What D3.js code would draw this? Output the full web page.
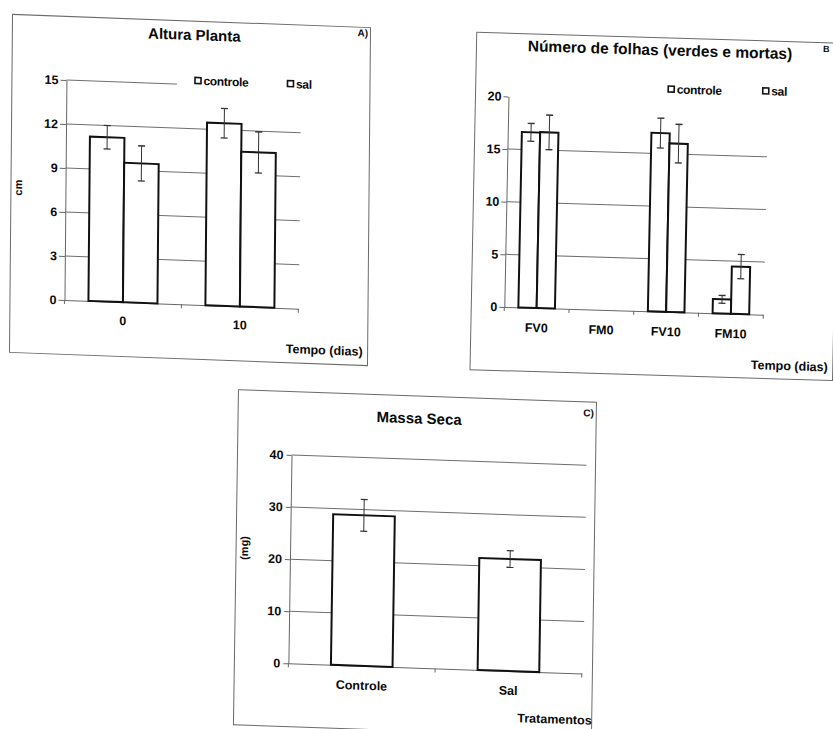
<!DOCTYPE html>
<html><head><meta charset="utf-8">
<script src="https://cdn.jsdelivr.net/npm/d3@7"></script>
<style>
body{margin:0;background:#fff}
svg{display:block}
text{font-family:"Liberation Sans",Arial,sans-serif;font-weight:bold;fill:#0a0a0a}
</style>
</head><body>
<svg id="c" width="833" height="729"></svg>
<script>
// ---------- Panel A: Altura Planta ----------
const alturaCategorias = ["0", "10"];
const alturaControle = [11.2, 12.45];
const alturaControleErro = [0.8, 1.0];
const alturaSal = [9.5, 10.55];
const alturaSalErro = [1.2, 1.4];
const alturaTicks = [0, 3, 6, 9, 12, 15];
const alturaGrid = [3, 6, 9, 12, 15];

// ---------- Panel B: Número de folhas ----------
const folhasCategorias = ["FV0", "FM0", "FV10", "FM10"];
const folhasControle = [16.65, 0, 16.95, 1.35];
const folhasControleErro = [0.85, 0, 1.42, 0.37];
const folhasSal = [16.7, 0, 16.0, 4.5];
const folhasSalErro = [1.64, 0, 1.83, 1.15];
const folhasTicks = [0, 5, 10, 15, 20];
const folhasGrid = [5, 10, 15];

// ---------- Panel C: Massa Seca ----------
const massaCategorias = ["Controle", "Sal"];
const massaValores = [28.9, 21.5];
const massaErro = [3.05, 1.6];
const massaTicks = [0, 10, 20, 30, 40];
const massaGrid = [10, 20, 30, 40];

const legendaNomes = ["controle", "sal"];

const svg = d3.select("#c");
const FONT = '"Liberation Sans", Arial, sans-serif';

function drawPanel(o) {
  const g = svg.append("g")
    .attr("transform", `translate(${o.cx},${o.cy}) matrix(1,${o.tb},${o.ta},1,0,0) translate(${-o.cx},${-o.cy})`);

  // frame
  g.append("rect")
    .attr("x", o.frame[0]).attr("y", o.frame[1])
    .attr("width", o.frame[2] - o.frame[0]).attr("height", o.frame[3] - o.frame[1])
    .attr("fill", "#fff").attr("stroke", "#6a6a6a").attr("stroke-width", 1);

  const x = d3.scaleBand().domain(o.categories).range([o.xl, o.xr]);
  const y = d3.scaleLinear().domain([0, o.ymax]).range([o.y0, o.yTop]);

  // gridlines
  g.selectAll("line.grid").data(o.grid).join("line").attr("class", "grid")
    .attr("x1", o.xl).attr("x2", o.gridR)
    .attr("y1", d => y(d)).attr("y2", d => y(d))
    .attr("stroke", "#6e6e6e").attr("stroke-width", 1);

  // legend background (hides gridline like the original)
  if (o.legendBg) {
    g.append("rect").attr("x", o.legendBg[0]).attr("y", o.legendBg[1])
      .attr("width", o.legendBg[2] - o.legendBg[0]).attr("height", o.legendBg[3] - o.legendBg[1])
      .attr("fill", "#fff");
  }

  // y axis
  const ya = g.append("g").attr("transform", `translate(${o.xl},0)`)
    .call(d3.axisLeft(y).tickValues(o.ticks).tickSize(o.tickSize).tickSizeOuter(0)
      .tickPadding(o.tickPad).tickFormat(d3.format("d")));
  ya.select(".domain").attr("stroke", "#666");
  ya.selectAll(".tick line").attr("stroke", "#666");
  ya.selectAll("text").attr("font-size", 12.5).attr("font-family", FONT)
    .attr("font-weight", "bold").attr("fill", "#0a0a0a");

  // x axis
  const xa = g.append("g").attr("transform", `translate(0,${o.y0})`)
    .call(d3.axisBottom(x).tickSize(0).tickSizeOuter(0).tickPadding(o.xPad));
  xa.select(".domain").attr("stroke", "#666");
  xa.selectAll("text").attr("font-size", 12.5).attr("font-family", FONT)
    .attr("font-weight", "bold").attr("fill", "#0a0a0a");
  // category boundary ticks (Excel style)
  const bounds = o.categories.map(c => x(c)).concat([x.range()[1]]);
  g.selectAll("line.bt").data(bounds).join("line").attr("class", "bt")
    .attr("x1", d => d).attr("x2", d => d)
    .attr("y1", o.y0).attr("y2", o.y0 + 4)
    .attr("stroke", "#666");

  // bars
  const groupW = x.bandwidth() * o.groupFrac;
  const sub = d3.scaleBand().domain(d3.range(o.series.length)).range([0, groupW]);
  o.series.forEach((s, si) => {
    const data = o.categories.map((c, i) => ({ c, v: s.values[i], e: s.errors[i] }));
    const left = d => x(d.c) + (x.bandwidth() - groupW) / 2 + sub(si);
    g.selectAll(null).data(data).join("rect")
      .attr("x", left).attr("width", sub.bandwidth())
      .attr("y", d => y(d.v)).attr("height", d => y(0) - y(d.v))
      .attr("fill", "#fff")
      .attr("stroke", d => d.v === 0 ? "#aaa" : "#111")
      .attr("stroke-width", d => d.v === 0 ? 1 : 2);
    const eb = data.filter(d => d.e > 0);
    const cxF = d => left(d) + sub.bandwidth() / 2;
    g.selectAll(null).data(eb).join("line")
      .attr("x1", cxF).attr("x2", cxF)
      .attr("y1", d => y(d.v - d.e)).attr("y2", d => y(d.v + d.e))
      .attr("stroke", "#333").attr("stroke-width", 1);
    [1, -1].forEach(sg => {
      g.selectAll(null).data(eb).join("line")
        .attr("x1", d => cxF(d) - 3.5).attr("x2", d => cxF(d) + 3.5)
        .attr("y1", d => y(d.v + sg * d.e)).attr("y2", d => y(d.v + sg * d.e))
        .attr("stroke", "#333").attr("stroke-width", 1.3);
    });
  });

  // legend
  if (o.legend) {
    o.legend.forEach((L, i) => {
      g.append("rect").attr("x", L.x).attr("y", L.y - 3).attr("width", 6).attr("height", 6)
        .attr("fill", "#fff").attr("stroke", "#111").attr("stroke-width", 1.6);
      g.append("text").attr("x", L.x + 8.5).attr("y", L.y + 4.3)
        .attr("font-size", 12).attr("letter-spacing", -0.3).text(legendaNomes[i]);
    });
  }

  // titles & labels
  g.append("text").attr("x", o.title.x).attr("y", o.title.y).attr("text-anchor", "middle")
    .attr("font-size", o.title.size).text(o.title.text);
  g.append("text").attr("x", o.tag.x).attr("y", o.tag.y).attr("text-anchor", "start")
    .attr("font-size", o.tag.size || 10).text(o.tag.text);
  g.append("text").attr("x", o.xTitle.x).attr("y", o.xTitle.y).attr("text-anchor", "end")
    .attr("font-size", 12.5).text(o.xTitle.text);
  if (o.yTitle) {
    g.append("text").attr("transform", `translate(${o.yTitle.x},${o.yTitle.y}) rotate(-90)`)
      .attr("text-anchor", "middle").attr("font-size", 11).text(o.yTitle.text);
  }
}

drawPanel({
  cx: 190, cy: 190, tb: 0.037, ta: -0.009,
  frame: [11, 21, 369, 359],
  categories: alturaCategorias, xl: 65.5, xr: 299.4, gridR: 300,
  ymax: 15, y0: 304.6, yTop: 84.6,
  ticks: alturaTicks, grid: alturaGrid, tickSize: 6, tickPad: 2, xPad: 14,
  groupFrac: 0.59,
  series: [{ values: alturaControle, errors: alturaControleErro },
           { values: alturaSal, errors: alturaSalErro }],
  legendBg: [176, 72, 301, 91],
  legend: [{ x: 194, y: 80.3 }, { x: 286.5, y: 80 }],
  title: { x: 193, y: 40, size: 15, text: "Altura Planta" },
  tag: { x: 356, y: 30, text: "A)" },
  xTitle: { x: 364, y: 349.5, text: "Tempo (dias)" },
  yTitle: { x: 22, y: 194, text: "cm" }
});

drawPanel({
  cx: 650, cy: 200, tb: 0.030, ta: -0.02,
  frame: [473.5, 37.5, 836, 375],
  categories: folhasCategorias, xl: 506.5, xr: 765.5, gridR: 766,
  ymax: 20, y0: 311.3, yTop: 100.7,
  ticks: folhasTicks, grid: folhasGrid, tickSize: 5, tickPad: 2, xPad: 15.3,
  groupFrac: 0.565,
  series: [{ values: folhasControle, errors: folhasControleErro },
           { values: folhasSal, errors: folhasSalErro }],
  legend: [{ x: 666, y: 88.5 }, { x: 760.5, y: 87.5 }],
  title: { x: 657, y: 55, size: 15.5, text: "Número de folhas (verdes e mortas)" },
  tag: { x: 820, y: 47, size: 9, text: "B" },
  xTitle: { x: 831, y: 366, text: "Tempo (dias)" }
});

drawPanel({
  cx: 415, cy: 560, tb: 0.035, ta: -0.015,
  frame: [236, 396, 594, 731],
  categories: massaCategorias, xl: 290, xr: 583.4, gridR: 585,
  ymax: 40, y0: 667.7, yTop: 459.3,
  ticks: massaTicks, grid: massaGrid, tickSize: 5, tickPad: 3, xPad: 15,
  groupFrac: 0.42,
  series: [{ values: massaValores, errors: massaErro }],
  title: { x: 417, y: 423.5, size: 15, text: "Massa Seca" },
  tag: { x: 581, y: 410.5, text: "C)" },
  xTitle: { x: 594, y: 718.5, text: "Tratamentos" },
  yTitle: { x: 248, y: 554, text: "(mg)" }
});
</script>
</body></html>
